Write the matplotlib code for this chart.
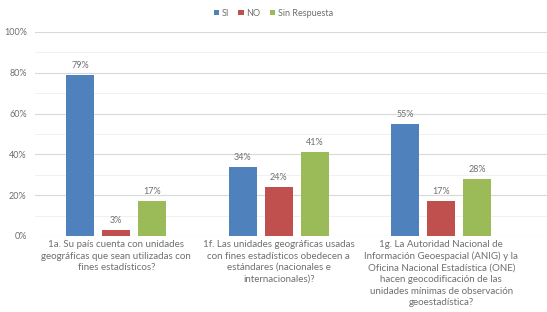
import numpy as np
import matplotlib.pyplot as plt

plt.rcParams['font.family'] = ['Lato', 'DejaVu Sans']

categories = [
    "1a. Su país cuenta con unidades\ngeográficas que sean utilizadas con\nfines estadísticos?",
    "1f. Las unidades geográficas usadas\ncon fines estadísticos obedecen a\nestándares (nacionales e\ninternacionales)?",
    "1g. La Autoridad Nacional de\nInformación Geoespacial (ANIG) y la\nOficina Nacional Estadística (ONE)\nhacen geocodificación de las\nunidades mínimas de observación\ngeoestadística?",
]
series_names = ["SI", "NO", "Sin Respuesta"]
si = [79, 34, 55]
no = [3, 24, 17]
sin_resp = [17, 41, 28]
colors = ["#4F81BD", "#C0504D", "#9BBB59"]

fig = plt.figure(figsize=(5.47, 3.12), dpi=100)
ax = fig.add_axes([0.064, 0.2436, 0.936, 0.654])

x = np.arange(len(categories))
w = 0.173
step = 0.222
grey = "#6f6f6f"
for i, (vals, name) in enumerate(zip([si, no, sin_resp], series_names)):
    pos = x + (i - 1) * step
    ax.bar(pos, vals, width=w, color=colors[i], label=name, zorder=3)
    for p, v in zip(pos, vals):
        ax.text(p, v + 2.5, f"{v}%", ha="center", va="bottom", fontsize=6.5, color=grey)

ax.set_ylim(0, 100)
ax.set_xlim(-0.5, 2.65)
ax.set_yticks(range(0, 101, 20))
ax.set_yticklabels([f"{t}%" for t in range(0, 101, 20)], fontsize=6.5, color=grey)
ax.set_yticks(range(0, 101, 10), minor=True)
ax.grid(axis="y", which="major", color="#d9d9d9", linewidth=0.8, zorder=0)
ax.grid(axis="y", which="minor", color="#efefef", linewidth=0.6, zorder=0)
ax.tick_params(axis="y", which="both", length=0, pad=6)
ax.set_xticks(x)
ax.set_xticklabels(categories, fontsize=7, color=grey, linespacing=1.35)
ax.tick_params(axis="x", length=0, pad=3)
for s in ax.spines.values():
    s.set_visible(False)

fig.legend(loc="center", bbox_to_anchor=(0.5, 0.958), ncol=3,
           frameon=False, fontsize=6.5, handlelength=0.6, handleheight=0.6,
           handletextpad=0.3, columnspacing=1.0, labelcolor=grey)

plt.savefig("out.png", dpi=100)
